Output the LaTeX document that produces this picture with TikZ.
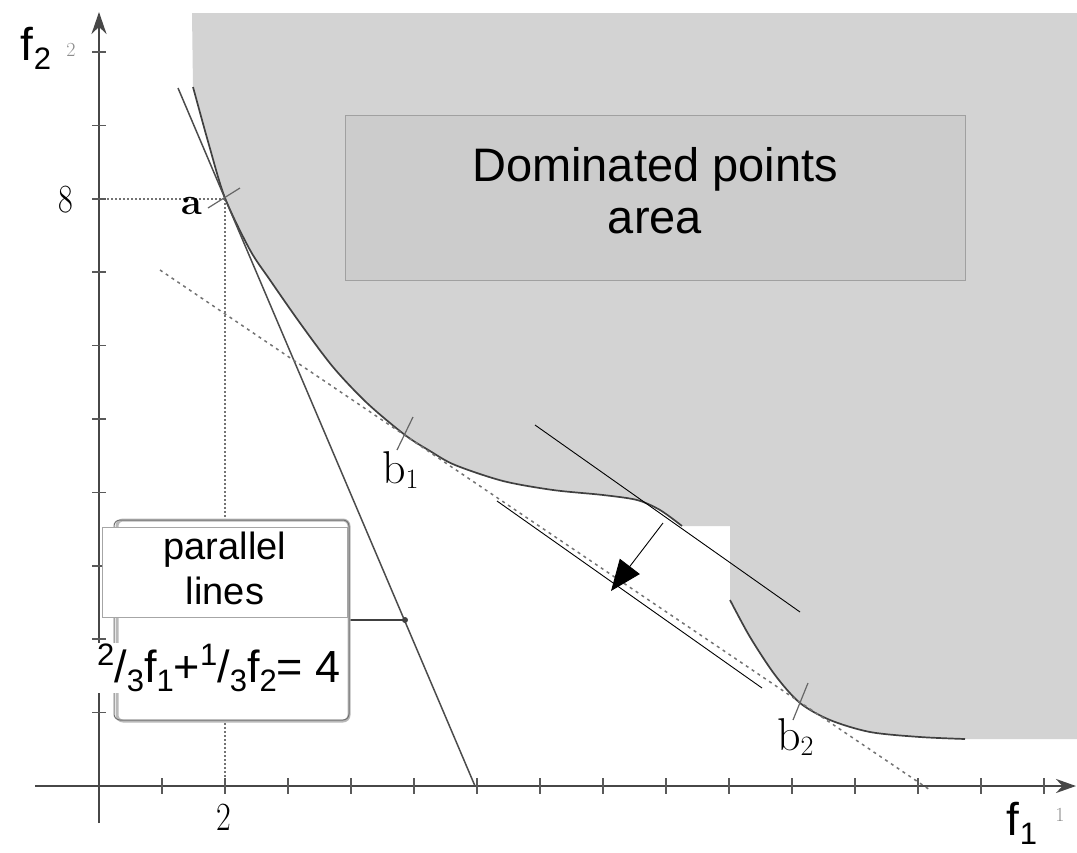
\documentclass[tikz,border=0pt]{standalone}
\usepackage{fontspec}
\newfontfamily\sans{Liberation Sans}
\usetikzlibrary{arrows.meta}
\definecolor{domgray}{RGB}{211,211,211}
\definecolor{boxgray}{RGB}{204,204,204}
\definecolor{boxborder}{RGB}{160,160,160}
\definecolor{shadowgray}{RGB}{185,185,185}
\newcommand\mysup[1]{\raisebox{0.72ex}{\fontsize{31}{31}\selectfont #1}}
\newcommand\mysub[1]{\raisebox{-0.38ex}{\fontsize{31}{31}\selectfont #1}}
\begin{document}
\begin{tikzpicture}[x=1pt,y=-1pt,
  curveline/.style={draw=black!75,line width=1.7pt},
  axisline/.style={draw=black!72,line width=2.6pt},
  tickline/.style={draw=black!65,line width=1.6pt},
  dotline/.style={draw=black!55,line width=1.4pt,dash pattern=on 2pt off 2pt},
  tangline/.style={draw=black!55,line width=1.5pt,dash pattern=on 3pt off 4pt},
  thinline/.style={draw=black,line width=0.9pt},
  steepline/.style={draw=black!70,line width=1.5pt},
  crossline/.style={draw=black!60,line width=1.2pt},
  serifnum/.style={font=\fontsize{40}{40}\selectfont,inner sep=0pt,xscale=0.8},
  seriflab/.style={font=\fontsize{46}{46}\selectfont,inner sep=0pt},
  sanslab/.style={font=\sans\fontsize{46}{46}\selectfont,inner sep=0pt},
  tinylab/.style={font=\fontsize{20}{20}\selectfont,text=black!45,inner sep=0pt}]
\useasboundingbox (0,0) rectangle (1077,852);

% dominated region
\fill[domgray] (192,13) -- plot[smooth] coordinates {(193,87) (209,145) (225,198) (250,250) (270,280) (300,323) (333,367) (367,403) (405,435) (430,451) (455,465) (503,481) (553,490) (603,495) (637,500) (660,510) (682,526)}
  -- (730,526) -- plot[smooth] coordinates {(730,600) (750,637) (775,675) (800,703) (830,720) (870,732) (920,737) (965,739)}
  -- (1077,739) -- (1077,13) -- cycle;
\draw[curveline] plot[smooth] coordinates {(193,87) (209,145) (225,198) (250,250) (270,280) (300,323) (333,367) (367,403) (405,435) (430,451) (455,465) (503,481) (553,490) (603,495) (637,500) (660,510) (682,526)};
\draw[curveline] plot[smooth] coordinates {(730,600) (750,637) (775,675) (800,703) (830,720) (870,732) (920,737) (965,739)};

% key points
\coordinate (a) at (225,199);
\coordinate (b1) at (405,435);
\coordinate (b2) at (800,703);
\coordinate (yaxB) at (99,823);
\coordinate (yaxT) at (99,12);
\coordinate (xaxL) at (35,786);
\coordinate (xaxR) at (1076,786);
\coordinate (y8) at (99,199);
\coordinate (x2) at (225,786);

% dominated box
\node[draw=boxborder,fill=boxgray,line width=0.8pt,minimum width=620pt,minimum height=165pt,inner sep=0pt] (domarea) at (655,197.5)
  {\sans\fontsize{47}{52}\selectfont\begin{tabular}{@{}c@{}}Dominated points\\area\end{tabular}};

% dotted guides
\draw[dotline] (y8) -- (a);
\draw[dotline] (a) -- (x2);

% axes
\draw[axisline,-{Stealth[length=20pt,width=14pt]}] (xaxL) -- (xaxR);
\draw[axisline,-{Stealth[length=22pt,width=15pt]}] (yaxB) -- (yaxT);
\foreach \i in {1,...,15} \draw[tickline] (99+63*\i,778) -- ++(0,16);
\foreach \i in {1,...,10} \draw[tickline] (92,786-73.4*\i) -- ++(14,0);

% lines
\coordinate (stT) at (178,88);
\coordinate (stB) at (475,786);
\draw[steepline] (stT) -- (stB);
\coordinate (tgL) at (160,270);
\coordinate (tgR) at (930,790);
\draw[tangline] (tgL) -- (tgR);
\coordinate (p1L) at (535,425);
\coordinate (p1R) at (800,612);
\draw[thinline] (p1L) -- (p1R);
\coordinate (p2L) at (497,501);
\coordinate (p2R) at (762,688);
\draw[thinline] (p2L) -- (p2R);
\coordinate (arS) at (663,523);
\coordinate (arE) at (611,591);
\draw[thinline,-{Triangle[length=31pt,width=25pt]}] (arS) -- (arE);

% crosses
\draw[crossline] (208,208) -- (240,188);
\draw[crossline] (397,450) -- (413,417);
\draw[crossline] (793,720) -- (808,683);

% labels
\node[inner sep=0pt,font=\bfseries\fontsize{38}{38}\selectfont] (alab) at (192,206) {a};
\node[seriflab,anchor=base west] (b1lab) at (382,483) {b\raisebox{-0.3ex}{\fontsize{28}{28}\selectfont 1}};
\node[seriflab,anchor=base west] (b2lab) at (777,750) {b\raisebox{-0.3ex}{\fontsize{28}{28}\selectfont 2}};
\node[serifnum] (lab8) at (66,200) {8};
\node[serifnum] (lab2) at (224,817) {2};
\node[sanslab] (f2lab) at (36,48) {f\mysub{2}};
\node[sanslab] (f1lab) at (1022,823) {f\mysub{1}};
\node[tinylab] (tiny2) at (71,50) {2};
\node[tinylab] (tiny1) at (1060,815) {1};

% parallel lines box
\coordinate (boxConn) at (350,620);
\coordinate (lineHit) at (405,620);
\draw[draw=black!75,line width=2.6pt] (boxConn) -- (lineHit);
\fill[black!75] (lineHit) circle (3pt);
\draw[draw=shadowgray,line width=3pt,rounded corners=6pt,fill=white] (117,520) rectangle (349,721);
\draw[draw=black!55,line width=1pt,rounded corners=6pt] (114,520) rectangle (349,720);
\node[draw=black!35,fill=white,line width=1pt,minimum width=245pt,minimum height=85pt,inner sep=0pt,anchor=north west] (parbox) at (102,527)
  {\sans\fontsize{38}{45}\selectfont\begin{tabular}{@{}c@{}}parallel\\lines\end{tabular}};
\node[fill=white,inner sep=1pt,font=\sans\fontsize{45}{45}\selectfont,anchor=west] (formula) at (96,668)
  {\mysup{2}/\mysub{3}f\mysub{1}+\mysup{1}/\mysub{3}f\mysub{2}= 4};
\end{tikzpicture}
\end{document}
